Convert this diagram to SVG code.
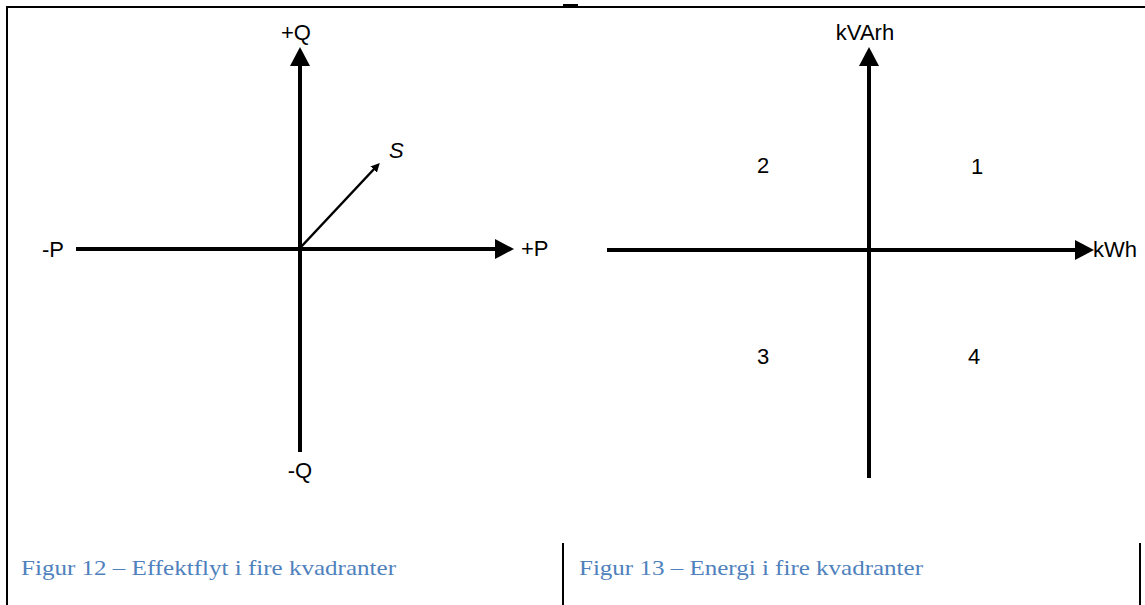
<svg xmlns="http://www.w3.org/2000/svg" width="1145" height="605" viewBox="0 0 1145 605">
  <style>
    .frame { stroke: #000; stroke-width: 2; fill: none; }
    .axis { stroke: #000; stroke-width: 4; fill: none; }
    .vec { stroke: #000; stroke-width: 2.5; fill: none; }
    .lbl { font-family: "Liberation Sans", Arial, sans-serif; font-size: 22px; fill: #000; }
    .cap { font-family: "Liberation Serif", "Times New Roman", serif; font-size: 22px; fill: #4F81BD; }
  </style>
  <defs>
    <marker id="big" markerUnits="userSpaceOnUse" markerWidth="20" markerHeight="20" refX="0" refY="10" orient="auto">
      <path d="M0,0 L19,10 L0,20 z" fill="#000"/>
    </marker>
    <marker id="small" markerUnits="userSpaceOnUse" markerWidth="10" markerHeight="10" refX="2" refY="4.5" orient="auto">
      <path d="M0,0 L9,4.5 L0,9 z" fill="#000"/>
    </marker>
  </defs>
  <rect width="1145" height="605" fill="#fff"/>

  <g id="frame">
    <line class="frame" x1="7" y1="7" x2="7" y2="605"/>
    <line class="frame" x1="6" y1="7" x2="1145" y2="7"/>
    <line class="frame" x1="563" y1="5" x2="578" y2="5"/>
    <line class="frame" x1="563" y1="543" x2="563" y2="605"/>
    <line class="frame" x1="1140" y1="543" x2="1140" y2="605"/>
  </g>

  <g id="connectors">
    <line class="axis" x1="300" y1="452" x2="300" y2="66" marker-end="url(#big)"/>
    <line class="axis" x1="76" y1="249" x2="495" y2="249" marker-end="url(#big)"/>
    <line class="vec" x1="300" y1="248" x2="375" y2="168" marker-end="url(#small)"/>
    <line class="axis" x1="869" y1="478" x2="869" y2="66" marker-end="url(#big)"/>
    <line class="axis" x1="607" y1="250" x2="1075" y2="250" marker-end="url(#big)"/>
  </g>

  <g id="fig12-labels">
    <text id="plusQ" class="lbl" x="296" y="40" text-anchor="middle">+Q</text>
    <text id="minusQ" class="lbl" x="300" y="478" text-anchor="middle">-Q</text>
    <text id="minusP" class="lbl" x="42" y="257">-P</text>
    <text id="plusP" class="lbl" x="521" y="256">+P</text>
    <text id="S" class="lbl" x="389" y="158" font-style="italic">S</text>
  </g>

  <g id="fig13-labels">
    <text id="kVArh" class="lbl" x="865" y="40" text-anchor="middle">kVArh</text>
    <text id="kWh" class="lbl" x="1093" y="257">kWh</text>
    <text id="q1" class="lbl" x="971" y="174">1</text>
    <text id="q2" class="lbl" x="757" y="173">2</text>
    <text id="q3" class="lbl" x="757" y="364">3</text>
    <text id="q4" class="lbl" x="968" y="364">4</text>
  </g>

  <g id="captions">
    <text id="cap12" class="cap" x="21" y="575" textLength="375" lengthAdjust="spacingAndGlyphs">Figur 12 – Effektflyt i fire kvadranter</text>
    <text id="cap13" class="cap" x="579" y="575" textLength="344" lengthAdjust="spacingAndGlyphs">Figur 13 – Energi i fire kvadranter</text>
  </g>
</svg>
